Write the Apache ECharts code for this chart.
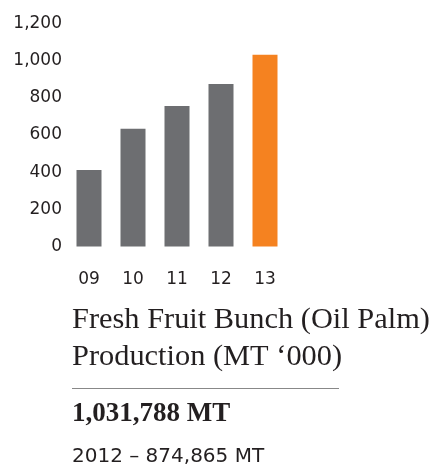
<!DOCTYPE html>
<html>
<head>
<meta charset="utf-8">
<script src="https://cdn.jsdelivr.net/npm/echarts@6/dist/echarts.min.js"></script>
<style>
  html, body { margin: 0; padding: 0; background: #fff; }
  #main { width: 437px; height: 467px; }
</style>
</head>
<body>
<div id="main"></div>
<script>
// years (short) and production in MT '000
var years = ['09', '10', '11', '12', '13']
var production = [412, 633, 756, 874.865, 1031.788]
var yTicks = [0, 200, 400, 600, 800, 1000, 1200]

var titleLines = ['Fresh Fruit Bunch (Oil Palm)', 'Production (MT \u2018000)']
var headline = '1,031,788 MT'
var prevLine = '2012 \u2013 874,865 MT'

var grey = '#6d6e71'
var orange = '#f58220'
var ink = '#231f20'

var chart = echarts.init(document.getElementById('main'))
chart.setOption({
  animation: false,
  grid: { left: 67, top: 23.5, width: 220, height: 223 },
  xAxis: {
    type: 'category',
    data: years,
    axisLine: { show: false },
    axisTick: { show: false },
    axisLabel: { margin: 25, fontSize: 17, fontFamily: 'DejaVu Sans', color: ink }
  },
  yAxis: {
    type: 'value',
    min: yTicks[0],
    max: yTicks[yTicks.length - 1],
    interval: 200,
    splitLine: { show: false },
    axisLine: { show: false },
    axisTick: { show: false },
    axisLabel: {
      margin: 5, fontSize: 17, fontFamily: 'DejaVu Sans', color: ink,
      formatter: function (v) { return v.toLocaleString('en-US') }
    }
  },
  series: [{
    type: 'bar',
    barWidth: 25,
    data: production.map(function (v, i) {
      return { value: v, itemStyle: { color: i === production.length - 1 ? orange : grey } }
    })
  }],
  graphic: [
    { type: 'text', x: 72, y: 320, style: { text: titleLines[0], font: '30.4px "Liberation Serif"', fill: ink, textVerticalAlign: 'middle' } },
    { type: 'text', x: 72, y: 356.7, style: { text: titleLines[1], font: '30.4px "Liberation Serif"', fill: ink, textVerticalAlign: 'middle' } },
    { type: 'line', shape: { x1: 72, y1: 388.5, x2: 339, y2: 388.5 }, style: { stroke: '#888', lineWidth: 1 } },
    { type: 'text', x: 72, y: 414, style: { text: headline, font: 'bold 27px "Liberation Serif"', fill: ink, textVerticalAlign: 'middle' } },
    { type: 'text', x: 72, y: 457, style: { text: prevLine, font: '20px "DejaVu Sans"', fill: ink, textVerticalAlign: 'middle' } }
  ]
})
</script>
</body>
</html>
